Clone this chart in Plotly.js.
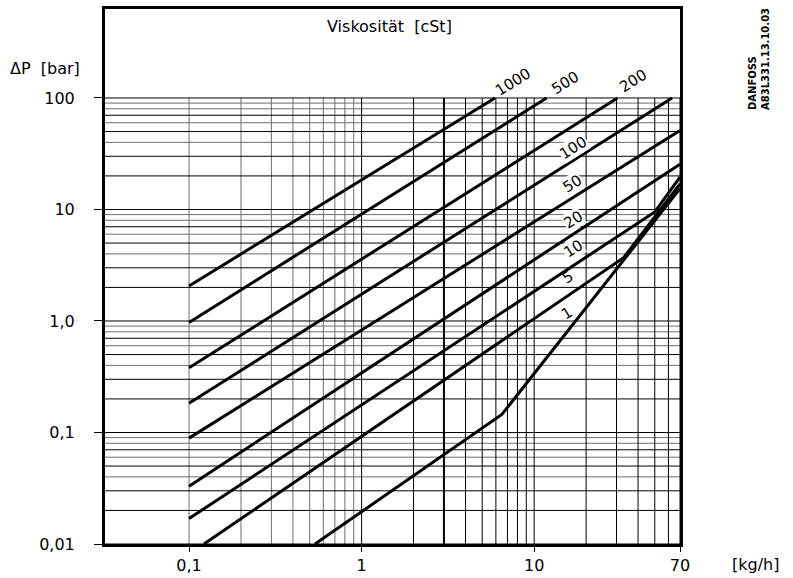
<!DOCTYPE html>
<html>
<head>
<meta charset="utf-8">
<script src="https://cdn.plot.ly/plotly-3.0.1.min.js"></script>
<style>html,body{margin:0;padding:0;background:#fff;}#chart{width:793px;height:578px;}</style>
</head>
<body>
<div id="chart"></div>
<script>
// ---- data ----
const viscosities = ['1000', '500', '200', '100', '50', '20', '10', '5', '1'];
const flow_1000 = [0.1, 5.93];        const dp_1000 = [2.06, 100];
const flow_500  = [0.1, 11.8];        const dp_500  = [0.97, 100];
const flow_200  = [0.1, 30.4];        const dp_200  = [0.38, 100];
const flow_100  = [0.1, 63];          const dp_100  = [0.183, 100];
const flow_50   = [0.1, 70];          const dp_50   = [0.089, 51];
const flow_20   = [0.1, 70];          const dp_20   = [0.033, 25.5];
const flow_10   = [0.1, 50, 70];      const dp_10   = [0.0169, 9.5, 19.5];
const flow_5    = [0.122, 33, 70];    const dp_5    = [0.01, 3.7, 17];
const flow_1    = [0.537, 6.5, 70];   const dp_1    = [0.01, 0.145, 15.4];

const xTickVals = [0.1, 1, 10, 70];
const xTickText = ['0,1', '1', '10', '70'];
const yTickVals = [0.01, 0.1, 1, 10, 100];
const yTickText = ['0,01', '0,1', '1,0', '10', '100'];
const gridMantissas = [1, 2, 3, 4, 5, 6, 7, 8, 9];
const gridDecadesY = [0.01, 0.1, 1, 10];
const gridDecadesX = [0.1, 1, 10];

const titleText = 'Viskosität&nbsp;&nbsp;[cSt]';
const yUnitText = 'ΔP&nbsp;&nbsp;[bar]';
const xUnitText = '[kg/h]';
const stampText = 'DANFOSS<br>A83L331.13.10.03';

// ---- layout geometry ----
const W = 793, H = 578;
const L = 105, R = 680, T = 9, B = 544;
const xRange = [-1.487, Math.log10(70)];
const yRange = [-2, 2.798];
const px = x => (x - L) / (R - L);
const py = y => (B - y) / (B - T);

const xMin = Math.pow(10, xRange[0]), xMax = Math.pow(10, xRange[1]);
const gridYTop = 100, gridYBottom = 0.01;

// grid values
let gy = [];
gridDecadesY.forEach(d => gridMantissas.forEach(m => gy.push(+(d * m).toPrecision(3))));
gy.push(100);
let gx = [];
gridDecadesX.forEach(d => gridMantissas.forEach(m => { const v = +(d * m).toPrecision(3); if (v <= 70) gx.push(v); }));

function isDark(v) {
  const m = Math.round(v / Math.pow(10, Math.floor(Math.log10(v) + 1e-9)));
  return [1, 2, 3, 5, 7].includes(m);
}

function segTrace(segs, color, width) {
  const x = [], y = [];
  segs.forEach(s => { x.push(s[0], s[2], null); y.push(s[1], s[3], null); });
  return {x, y, type: 'scatter', mode: 'lines', line: {color, width}, hoverinfo: 'skip', showlegend: false, connectgaps: false};
}

const hDark = [], hGrey = [];
gy.forEach(v => (isDark(v) ? hDark : hGrey).push([xMin, v, xMax, v]));
const vDark = [], vGrey = [], vThick = [];
gx.forEach(v => {
  const s = [v, gridYBottom, v, gridYTop];
  if (v < 1) vGrey.push(s);
  else if (v === 3) vThick.push(s);
  else vDark.push(s);
});

const traces = [
  segTrace(hGrey, '#6e6e6e', 1),
  segTrace(vGrey, '#6e6e6e', 1),
  segTrace(hDark, '#000', 1),
  segTrace(vDark, '#000', 1),
  segTrace(vThick, '#000', 2),
];

const series = [
  [flow_1000, dp_1000], [flow_500, dp_500], [flow_200, dp_200], [flow_100, dp_100],
  [flow_50, dp_50], [flow_20, dp_20], [flow_10, dp_10], [flow_5, dp_5], [flow_1, dp_1]
];
series.forEach((s, i) => traces.push({
  x: s[0], y: s[1], type: 'scatter', mode: 'lines', name: viscosities[i] + ' cSt',
  line: {color: '#000', width: 3}, hoverinfo: 'skip', showlegend: false
}));

// label placement (pixel positions in the picture) and whether a white patch is behind it
const labelPos = {
  '1000': [513, 82, false], '500': [565, 83, false], '200': [633, 81, false], '100': [573, 148, true],
  '50': [572, 184, true], '20': [573, 220, true], '10': [573, 249, true], '5': [568, 277, false], '1': [567, 313, false]
};

const font = 'DejaVu Sans, Verdana, sans-serif';
const annotations = viscosities.map(v => ({
  text: v, xref: 'paper', yref: 'paper', x: px(labelPos[v][0]), y: py(labelPos[v][1]),
  xanchor: 'center', yanchor: 'middle', showarrow: false, textangle: -32,
  font: {family: font, size: 15, color: '#000'},
  bgcolor: labelPos[v][2] ? '#fff' : 'rgba(0,0,0,0)', borderpad: 0
}));
annotations.push(
  {text: titleText, xref: 'paper', yref: 'paper', x: px(389), y: py(27), xanchor: 'center', yanchor: 'middle', showarrow: false, font: {family: font, size: 16, color: '#000'}},
  {text: yUnitText, xref: 'paper', yref: 'paper', x: px(8), y: py(68), xanchor: 'left', yanchor: 'middle', showarrow: false, font: {family: font, size: 16, color: '#000'}},
  {text: xUnitText, xref: 'paper', yref: 'paper', x: px(730), y: py(564), xanchor: 'left', yanchor: 'middle', showarrow: false, font: {family: font, size: 16, color: '#000'}},
  {text: stampText, xref: 'paper', yref: 'paper', x: px(759), y: py(59), xanchor: 'center', yanchor: 'middle', showarrow: false, textangle: -90, align: 'left', font: {family: 'DejaVu Sans, sans-serif', size: 10, color: '#000', weight: 'bold'}}
);

const layout = {
  width: W, height: H,
  margin: {l: L, r: W - R, t: T, b: H - B, pad: 0},
  paper_bgcolor: '#fff', plot_bgcolor: '#fff',
  showlegend: false, hovermode: false,
  xaxis: {
    type: 'log', range: xRange, showgrid: false, zeroline: false,
    tickmode: 'array', tickvals: xTickVals, ticktext: xTickText,
    ticks: 'outside', ticklen: 5, tickcolor: '#000', tickwidth: 1,
    ticklabelstandoff: 0,
    tickfont: {family: font, size: 16, color: '#000'},
    showline: true, linecolor: '#000', linewidth: 3, mirror: true
  },
  yaxis: {
    type: 'log', range: yRange, showgrid: false, zeroline: false,
    tickmode: 'array', tickvals: yTickVals, ticktext: yTickText,
    ticks: 'outside', ticklen: 8, tickcolor: '#000', tickwidth: 1,
    ticklabelstandoff: 16,
    tickfont: {family: font, size: 16, color: '#000'},
    showline: true, linecolor: '#000', linewidth: 3, mirror: true
  },
  annotations
};

Plotly.newPlot('chart', traces, layout, {staticPlot: true, displayModeBar: false});
</script>
</body>
</html>
